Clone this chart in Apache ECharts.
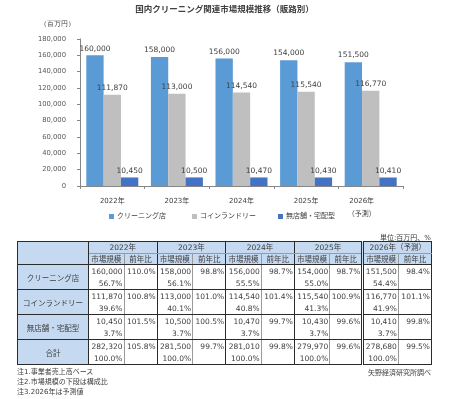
<!DOCTYPE html>
<html>
<head>
<meta charset="utf-8">
<script src="https://cdn.jsdelivr.net/npm/echarts@6/dist/echarts.min.js"></script>
<style>
  body { margin: 0; background: #fff; font-family: "DejaVu Sans", "Noto Sans CJK JP", sans-serif; color: #333; }
  #chart { position: absolute; left: 0; top: 0; width: 449px; height: 399px; }
  .txt { position: absolute; font-size: 7px; white-space: nowrap; color: #404040; }
  #tbl { position: absolute; left: 17px; top: 241px; width: 414px; border-collapse: collapse; table-layout: fixed; font-size: 7.5px; color: #404040; }
  #tbl td { border: 1px solid #2b2b2b; padding: 0 1px; white-space: nowrap; box-sizing: border-box; overflow: visible; }
  #tbl .hd { background: #c5d9f1; text-align: center; }
  #tbl .yr { border-bottom: 1px solid #9a9a9a; height: 12px; line-height: 10px; }
  #tbl .sub { height: 11px; line-height: 9px; }
  #tbl .sub.mk { border-right: 1px solid #9a9a9a; }
  #tbl .lbl { background: #c5d9f1; text-align: center; }
  #tbl .num { text-align: right; vertical-align: top; line-height: 11.5px; padding-top: 1px; }
  #tbl .mk.num { border-right: 1px solid #9a9a9a; }
  #tbl .g4 { border-left: 3px double #2b2b2b; }
</style>
</head>
<body>
<div id="chart"></div>
<div class="txt" style="right:18px;top:232px;">単位:百万円、%</div>
<table id="tbl"></table>
<div class="txt" style="left:17px;top:367px;line-height:10px;">注1.事業者売上高ベース<br>注2.市場規模の下段は構成比<br>注3.2026年は予測値</div>
<div class="txt" style="right:18px;top:367px;">矢野経済研究所調べ</div>
<script>
// カテゴリ
const years = ['2022年', '2023年', '2024年', '2025年', '2026年\n（予測）']
const tableYears = ['2022年', '2023年', '2024年', '2025年', '2026年（予測）']
const seriesNames = ['クリーニング店', 'コインランドリー', '無店舗・宅配型']

// 市場規模（百万円）
const cleaningShop = [160000, 158000, 156000, 154000, 151500]
const coinLaundry = [111870, 113000, 114540, 115540, 116770]
const delivery = [10450, 10500, 10470, 10430, 10410]
const total = [282320, 281500, 281010, 279970, 278680]

// 前年比（%）
const yoyShop = [110.0, 98.8, 98.7, 98.7, 98.4]
const yoyCoin = [100.8, 101.0, 101.4, 100.9, 101.1]
const yoyDelivery = [101.5, 100.5, 99.7, 99.6, 99.8]
const yoyTotal = [105.8, 99.7, 99.8, 99.6, 99.5]

// 構成比（%）
const shareShop = [56.7, 56.1, 55.5, 55.0, 54.4]
const shareCoin = [39.6, 40.1, 40.8, 41.3, 41.9]
const shareDelivery = [3.7, 3.7, 3.7, 3.7, 3.7]
const shareTotal = [100.0, 100.0, 100.0, 100.0, 100.0]

const colors = ['#5b9bd5', '#bfbfbf', '#4472c4']
const fmt = v => v.toLocaleString('en-US')
const font = '"DejaVu Sans", "Noto Sans CJK JP", sans-serif'

const chart = echarts.init(document.getElementById('chart'))

const makeSeries = (name, data, color) => ({
  name,
  type: 'bar',
  data,
  barGap: '0%',
  barCategoryGap: '19.5%',
  itemStyle: { color },
  label: {
    show: true,
    position: 'top',
    distance: 3,
    fontSize: 7.5,
    color: '#404040',
    formatter: p => fmt(p.value)
  }
})

const legendAt = (name, left) => ({
  data: [name],
  left,
  top: 208,
  itemWidth: 5,
  itemHeight: 5,
  icon: 'rect',
  textStyle: { fontSize: 7, color: '#404040', padding: [0, 0, 0, -2] }
})

chart.setOption({
  animation: false,
  backgroundColor: '#fff',
  textStyle: { fontFamily: font },
  title: {
    text: '国内クリーニング関連市場規模推移（販路別）',
    left: 'center',
    top: 1,
    textStyle: { fontSize: 8.5, fontWeight: 'bold', color: '#404040', fontFamily: font }
  },
  graphic: [{
    type: 'text',
    left: 40,
    top: 21,
    style: { text: '（百万円）', fontSize: 7, fill: '#404040', font: '7px ' + font }
  }],
  legend: [
    legendAt(seriesNames[0], 104),
    legendAt(seriesNames[1], 187),
    legendAt(seriesNames[2], 273)
  ],
  grid: { left: 80, right: 46, top: 39, bottom: 213 },
  xAxis: {
    type: 'category',
    data: years.map((y, i) => i === 4 ? { value: y, textStyle: { padding: [0, 18, 0, 0] } } : y),
    axisLine: { lineStyle: { color: '#868686' } },
    axisTick: { show: true, length: 3, lineStyle: { color: '#868686' } },
    axisLabel: { fontSize: 7, color: '#404040', margin: 9, lineHeight: 13 }
  },
  yAxis: {
    type: 'value',
    min: 0,
    max: 180000,
    interval: 20000,
    axisLine: { show: true, lineStyle: { color: '#868686' } },
    axisTick: { show: true, length: 3, lineStyle: { color: '#868686' } },
    splitLine: { show: false },
    axisLabel: { fontSize: 6.8, color: '#595959', margin: 14, formatter: v => fmt(v) }
  },
  series: [
    makeSeries(seriesNames[0], cleaningShop, colors[0]),
    makeSeries(seriesNames[1], coinLaundry, colors[1]),
    makeSeries(seriesNames[2], delivery, colors[2])
  ]
})

// 表
const rows = [
  { label: 'クリーニング店', val: cleaningShop, share: shareShop, yoy: yoyShop, h: 25 },
  { label: 'コインランドリー', val: coinLaundry, share: shareCoin, yoy: yoyCoin, h: 25 },
  { label: '無店舗・宅配型', val: delivery, share: shareDelivery, yoy: yoyDelivery, h: 25 },
  { label: '合計', val: total, share: shareTotal, yoy: yoyTotal, h: 24 }
]
const pct = v => v.toFixed(1) + '%'
let html = '<colgroup><col style="width:71px">'
for (let i = 0; i < 5; i++) html += '<col style="width:35.5px"><col style="width:33.1px">'
html += '</colgroup><tr><td class="hd" rowspan="2"></td>'
tableYears.forEach((y, i) => { html += `<td class="hd yr${i === 4 ? ' g4' : ''}" colspan="2">${y}</td>` })
html += '</tr><tr>'
tableYears.forEach((y, i) => { html += `<td class="hd sub mk${i === 4 ? ' g4' : ''}">市場規模</td><td class="hd sub">前年比</td>` })
html += '</tr>'
rows.forEach(r => {
  html += `<tr style="height:${r.h}px"><td class="lbl">${r.label}</td>`
  r.val.forEach((v, i) => {
    html += `<td class="num mk${i === 4 ? ' g4' : ''}">${fmt(v)}<br>${pct(r.share[i])}</td><td class="num">${pct(r.yoy[i])}</td>`
  })
  html += '</tr>'
})
document.getElementById('tbl').innerHTML = html
</script>
</body>
</html>
